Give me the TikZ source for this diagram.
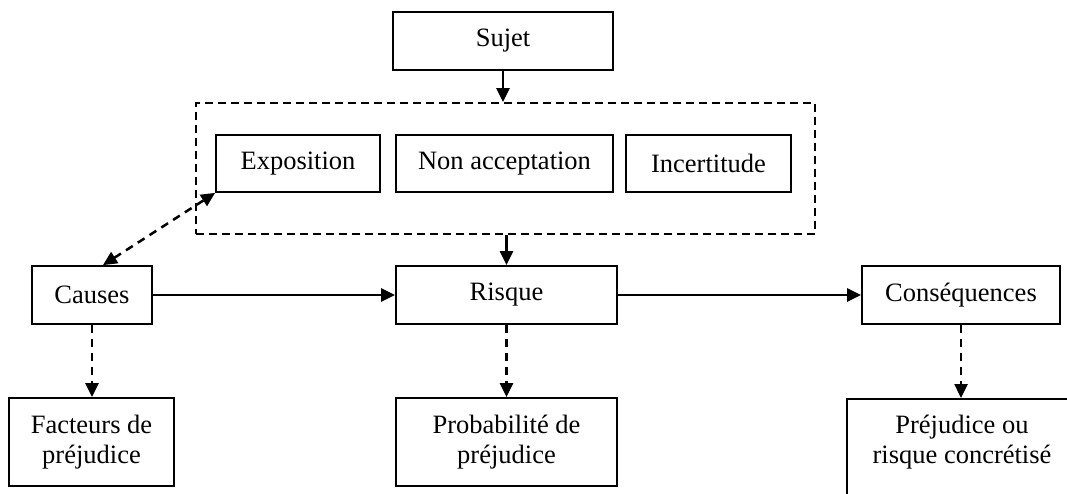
\documentclass[tikz,border=0pt]{standalone}
\usepackage{fontspec}
\setmainfont{Liberation Serif}
\usetikzlibrary{arrows.meta,calc}
\begin{document}
\begin{tikzpicture}[x=1pt,y=-1pt,
  box/.style={draw,line width=1.8pt,inner sep=0pt,align=center,
    font=\fontsize{26.5pt}{30.5pt}\selectfont},
  txt/.style={inner sep=0pt,align=center,font=\fontsize{26.5pt}{30.5pt}\selectfont},
  grpbox/.style={draw,line width=1.8pt,dash pattern=on 8pt off 5pt,inner sep=0pt},
  arr/.style={line width=2.5pt,-{Triangle[length=14pt,width=13pt]}},
  darr/.style={line width=2.5pt,dash pattern=on 8pt off 6pt,-{Triangle[length=14pt,width=13pt]}},
  ddarr/.style={line width=2.5pt,dash pattern=on 8pt off 6pt,{Triangle[length=14pt,width=13pt]}-{Triangle[length=14pt,width=13pt]}}
]
\useasboundingbox (0,0) rectangle (1067,493);
\clip (0,0) rectangle (1067,493);
\node[box,minimum width=220pt,minimum height=58pt] (sujet) at (503,41) {Sujet};
\node[grpbox,minimum width=619pt,minimum height=131pt] (grp) at (505.5,168.5) {};
\node[box,minimum width=164pt,minimum height=57pt] (expo) at (298,163.5) {Exposition};
\node[box,minimum width=217pt,minimum height=57pt] (nonacc) at (504.5,163.5) {Non acceptation};
\node[box,minimum width=165pt,minimum height=57pt] (incert) at (708.5,163.5) {Incertitude};
\node[box,minimum width=120pt,minimum height=58pt] (causes) at (92,295) {Causes};
\node[box,minimum width=221pt,minimum height=58pt] (risque) at (506.5,295) {Risque};
\node[box,minimum width=198pt,minimum height=58pt] (conseq) at (961,295) {Conséquences};
\node[box,minimum width=165pt,minimum height=88pt] (facteurs) at (91.5,442) {Facteurs de\\préjudice};
\node[box,minimum width=221pt,minimum height=88pt] (proba) at (506.5,442) {Probabilité de\\préjudice};
\node[box,minimum width=230pt,minimum height=140pt,anchor=north] (prejud) at (962,398) {};
\node[txt,minimum height=88pt,anchor=north] (prejudtxt) at (prejud.north) {Préjudice ou\\risque concrétisé};
\draw[arr] (sujet.south) -- (sujet.south |- grp.north);
\draw[arr] (risque.north |- grp.south) -- (risque.north);
\draw[arr] (causes.east) -- (risque.west);
\draw[arr] (risque.east) -- (conseq.west);
\draw[darr] (causes.south) -- (causes.south |- facteurs.north);
\draw[darr] (risque.south) -- (risque.south |- proba.north);
\draw[darr] (conseq.south) -- (conseq.south |- prejud.north);
\draw[ddarr] ($(causes.north)+(11,0)$) -- (expo.south west);
\end{tikzpicture}
\end{document}
